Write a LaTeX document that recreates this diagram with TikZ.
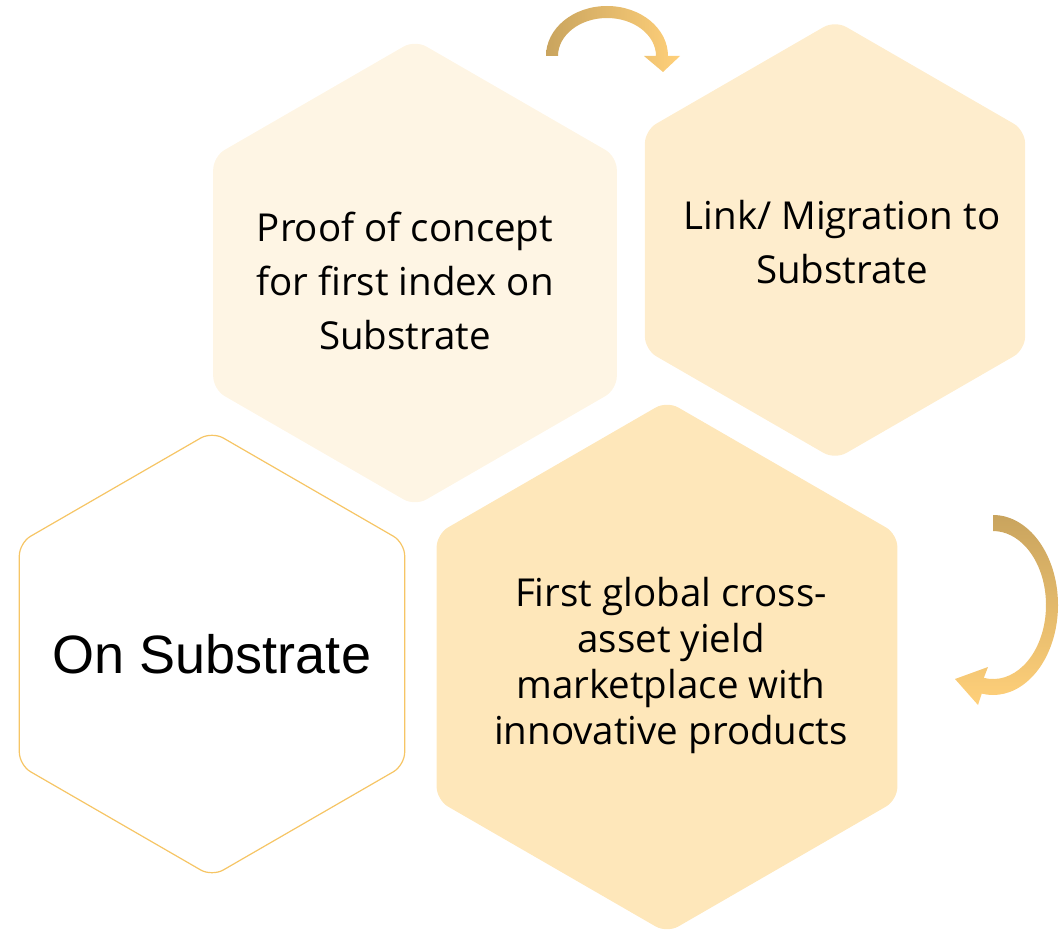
\documentclass[tikz,border=0pt]{standalone}
\usepackage{fontspec}
\setmainfont{Open Sans}
\newfontfamily\arialfont{Liberation Sans}
\usetikzlibrary{shapes.geometric,positioning}
\definecolor{hexone}{HTML}{FEF5E4}
\definecolor{hextwo}{HTML}{FEEDCD}
\definecolor{hexthree}{HTML}{FEE7BA}
\definecolor{hexline}{HTML}{F6C565}
\definecolor{arrowdark}{HTML}{C9A45E}
\definecolor{arrowlight}{HTML}{FFD07A}
\begin{document}
\begin{tikzpicture}[x=1pt,y=-1pt,
		hexa/.style={regular polygon,regular polygon sides=6,shape border rotate=30,rounded corners=13pt,inner sep=0pt},
		bigtext/.style={align=center,font=\fontsize{38.5}{54}\selectfont},
		smalltext/.style={align=center,font=\fontsize{38.5}{46}\selectfont}]
		\useasboundingbox (0,0) rectangle (1060,931);
		\node[hexa,fill=hexone,minimum size=466pt,label={[bigtext,xshift=-10pt,yshift=-8pt]center:Proof of concept\\for first index on\\Substrate}](proof) at (415,273){};
		\node[hexa,fill=hextwo,minimum size=439pt,label={[bigtext,xshift=7pt,yshift=-2pt]center:Link/ Migration to\\Substrate}](link) at (835,240){};
		\node[hexa,fill=hexthree,minimum size=532pt,label={[smalltext,xshift=4pt,yshift=2pt]center:First global cross-\\asset yield\\marketplace with\\innovative products}](market) at (667,667){};
		\node[hexa,draw=hexline,line width=1.2pt,fill=white,minimum size=445pt,label={[font=\arialfont\fontsize{54}{60}\selectfont]center:On Substrate}](onsub) at (212,654){};
		% curved arrows
		\shade[left color=arrowdark,right color=arrowlight]
		(546,56) arc[start angle=180,end angle=360,x radius=61,y radius=50]
		-- (680,56) -- (663,72) -- (644,56) -- (656,56)
		arc[start angle=360,end angle=180,x radius=49,y radius=38] -- cycle;
		\shade[top color=arrowdark,bottom color=arrowlight]
		(993,515) arc[start angle=-90,end angle=100,x radius=65,y radius=90]
		-- (978,705) -- (955,679) -- (988,667) -- (983.8,677.9)
		arc[start angle=100,end angle=-90,x radius=53,y radius=74] -- cycle;
\end{tikzpicture}
\end{document}
